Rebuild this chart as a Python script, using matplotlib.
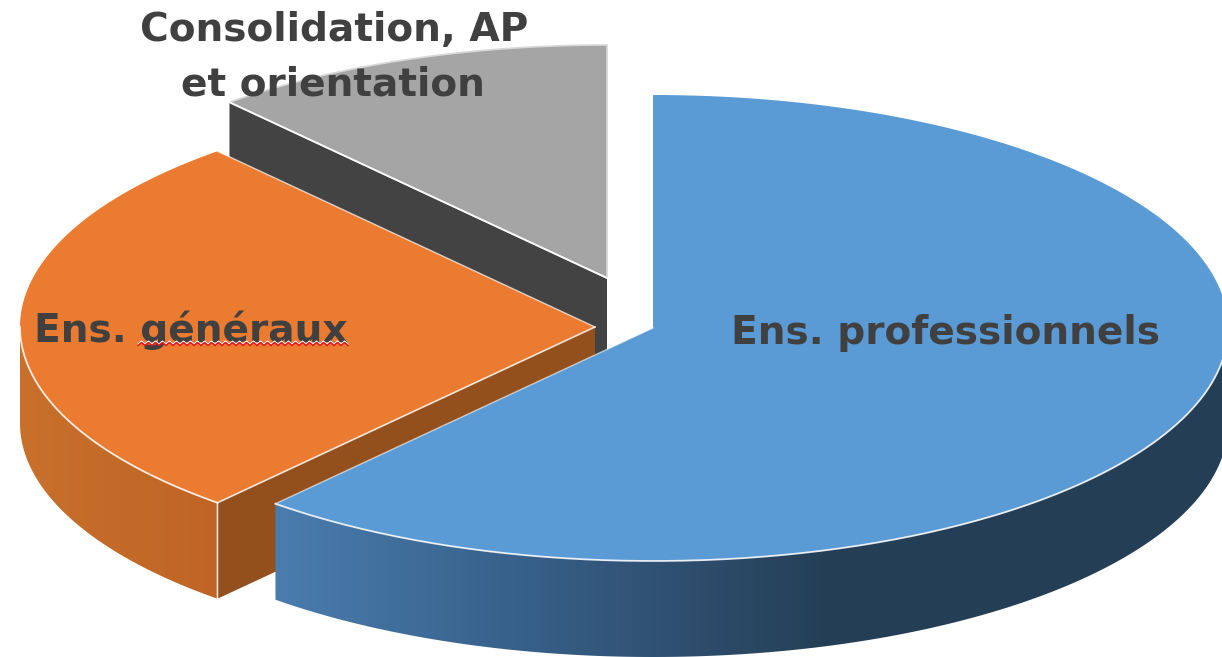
import numpy as np
import matplotlib
matplotlib.use('Agg')
import matplotlib.pyplot as plt
from matplotlib.colors import LinearSegmentedColormap
from matplotlib.patches import Polygon

# --- Data ---
LABELS = ['Ens. professionnels', 'Ens. généraux', 'Consolidation, AP\net orientation']
SHARES = [61.4, 27.2, 11.4]

# --- Look ---
TOP_COLORS = ['#5B9BD5', '#EB7B30', '#A5A5A5']
CUT_COLORS = [None, '#94501C', '#434343']
CENTERS = [(653, 328), (595, 327), (607, 278)]
RX, RY = 575, 233
DEPTH = 96
TEXT_COLOR = '#404040'


def arc(center, t1, t2, n=200):
    t = np.radians(np.linspace(t1, t2, n))
    return np.column_stack([center[0] + RX * np.sin(t), center[1] - RY * np.cos(t)])


def draw_side(ax, center, t1, t2, x_stops, colors):
    # outer wall, shaded from left to right
    top = arc(center, t1, t2)
    wall = np.vstack([top, top[::-1] + [0, DEPTH]])
    patch = Polygon(wall, closed=True, facecolor='none', edgecolor='none')
    ax.add_patch(patch)
    x0, x1 = x_stops[0], x_stops[-1]
    pos = [(x - x0) / (x1 - x0) for x in x_stops]
    cmap = LinearSegmentedColormap.from_list('side', list(zip(pos, colors)))
    img = ax.imshow(np.linspace(0, 1, 256).reshape(1, -1), cmap=cmap, aspect='auto',
                    extent=(x0, x1, wall[:, 1].max(), wall[:, 1].min()),
                    interpolation='bilinear', zorder=1)
    img.set_clip_path(patch)


fig = plt.figure(figsize=(12.22, 6.57), dpi=100)
ax = fig.add_axes([0, 0, 1, 1])

ends = np.cumsum(SHARES) / np.sum(SHARES) * 360
starts = np.concatenate([[0], ends[:-1]])

# gray slice at the back
center = CENTERS[2]
p = arc(center, starts[2], starts[2], 1)[0]
ax.add_patch(Polygon([center, p, p + [0, DEPTH], np.add(center, [0, DEPTH])],
                     facecolor=CUT_COLORS[2], edgecolor='none'))
ax.add_patch(Polygon(np.vstack([[center], arc(center, starts[2], ends[2])]),
                     facecolor=TOP_COLORS[2], edgecolor='#D8D8D8', lw=1.2))
ax.plot([center[0], p[0]], [center[1], p[1]], color='white', lw=1.3, alpha=0.9)

# orange slice
center = CENTERS[1]
p = arc(center, starts[1], starts[1], 1)[0]
ax.add_patch(Polygon([center, p, p + [0, DEPTH], np.add(center, [0, DEPTH])],
                     facecolor=CUT_COLORS[1], edgecolor='none'))
draw_side(ax, center, starts[1], 270, [18, 222], ['#C8702C', '#BF6425'])
ax.add_patch(Polygon(np.vstack([[center], arc(center, starts[1], ends[1])]),
                     facecolor=TOP_COLORS[1], edgecolor='none'))
ax.plot(*arc(center, starts[1], 270).T, color='white', lw=1.3, alpha=0.85)
ax.plot([center[0], p[0], p[0]], [center[1], p[1], p[1] + DEPTH], color='white', lw=1.2, alpha=0.8)
q = arc(center, ends[1], ends[1], 1)[0]
ax.plot([center[0], q[0]], [center[1], q[1]], color='white', lw=1.0, alpha=0.7)

# blue slice in front
center = CENTERS[0]
draw_side(ax, center, 90, ends[0], [272, 500, 700, 830, 1230],
          ['#4A7DAE', '#38628C', '#2E4D6C', '#243E55', '#243E55'])
ax.add_patch(Polygon(np.vstack([[center], arc(center, starts[0], ends[0])]),
                     facecolor=TOP_COLORS[0], edgecolor='none'))
ax.plot(*arc(center, 90, ends[0]).T, color='white', lw=1.3, alpha=0.85)
q = arc(center, ends[0], ends[0], 1)[0]
ax.plot([center[0], q[0]], [center[1], q[1]], color='white', lw=1.0, alpha=0.6)

# labels
font = dict(family='DejaVu Sans', fontweight='bold', color=TEXT_COLOR, zorder=5, fontsize=28.2)
ax.text(731, 344, LABELS[0], ha='left', va='baseline', **font)
ax.text(34, 342, LABELS[1], ha='left', va='baseline', **font)
first, second = LABELS[2].split('\n')
ax.text(334, 41, first, ha='center', va='baseline', **font)
ax.text(333, 96, second, ha='center', va='baseline', **font)

# spell-check squiggle under the word
xs = np.arange(138, 349, 3.5)
ys = 344 + 1.5 * (-1.0) ** np.arange(len(xs))
ax.plot(xs, ys - 1.4, color='white', lw=0.9, zorder=6)
ax.plot(xs, ys, color='#E8141C', lw=1.1, zorder=6)

ax.set_xlim(0, 1222)
ax.set_ylim(657, 0)
ax.axis('off')
fig.savefig('out.png', dpi=100, facecolor='white')
